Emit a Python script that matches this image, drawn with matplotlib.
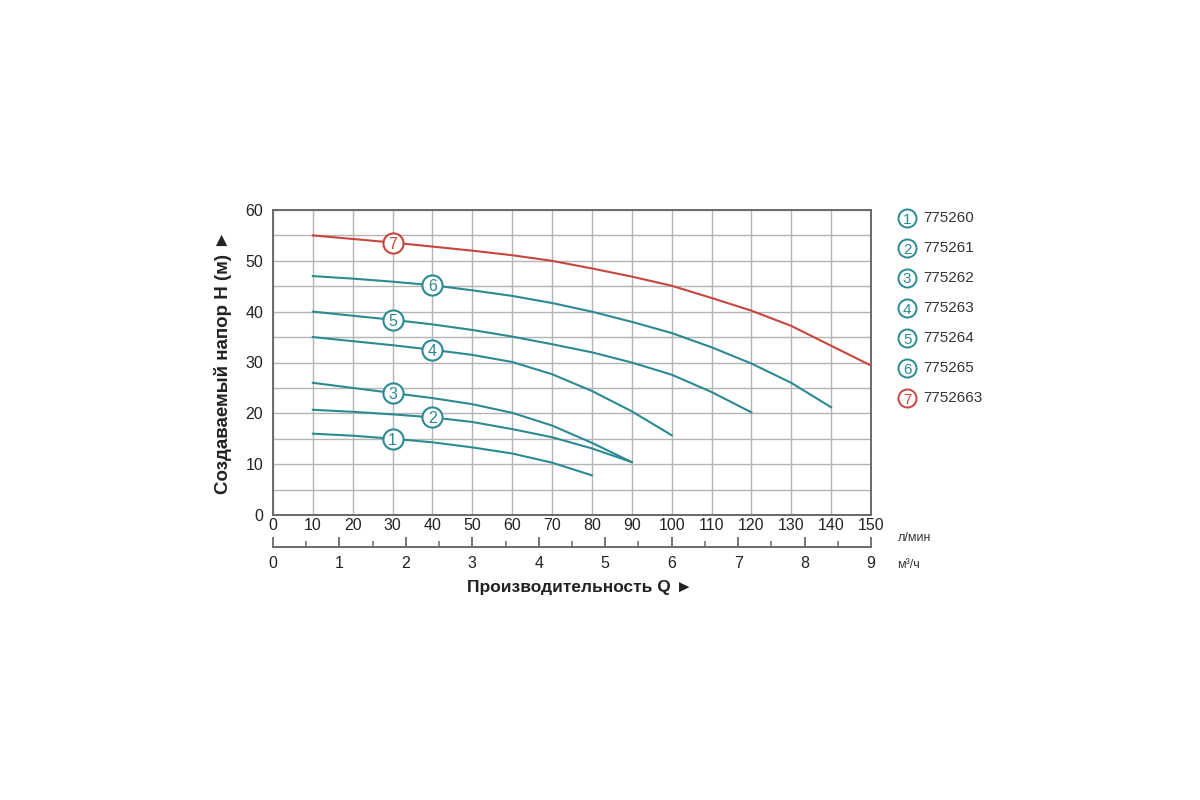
import matplotlib
matplotlib.use("Agg")
import matplotlib.pyplot as plt
import numpy as np

# ============================================================
# DATA
# ============================================================
flow = [10, 20, 30, 40, 50, 60, 70, 80, 90, 100, 110, 120, 130, 140, 150]

head_1 = [16.0, 15.6, 15.0, 14.3, 13.3, 12.1, 10.3, 7.8]
head_2 = [20.7, 20.3, 19.8, 19.2, 18.3, 16.9, 15.3, 13.1, 10.4]
head_3 = [26.0, 25.0, 24.0, 23.0, 21.8, 20.1, 17.6, 14.2, 10.4]
head_4 = [35.0, 34.2, 33.4, 32.5, 31.5, 30.1, 27.7, 24.4, 20.4, 15.7]
head_5 = [40.0, 39.2, 38.4, 37.5, 36.4, 35.1, 33.6, 32.0, 30.0, 27.6, 24.2, 20.2]
head_6 = [47.0, 46.5, 45.9, 45.2, 44.2, 43.1, 41.7, 40.0, 38.0, 35.8, 33.0, 29.8, 26.0, 21.2]
head_7 = [55.0, 54.3, 53.6, 52.8, 52.0, 51.1, 50.0, 48.5, 46.9, 45.1, 42.7, 40.2, 37.2, 33.3, 29.4]

curves = [head_1, head_2, head_3, head_4, head_5, head_6, head_7]
models = ["775260", "775261", "775262", "775263", "775264", "775265", "7752663"]
label_flow = [30, 40, 30, 40, 30, 40, 30]

flow_m3h = list(range(0, 10))

TEAL = "#2b8a92"
RED = "#c8453e"
colors = [TEAL] * 6 + [RED]

FONT = ["Liberation Sans Narrow", "Liberation Sans", "DejaVu Sans"]
plt.rcParams["font.family"] = FONT

# ============================================================
# FIGURE
# ============================================================
fig = plt.figure(figsize=(12, 8), dpi=100)
fig.patch.set_facecolor("white")

ax = fig.add_axes([0.2275, 0.35625, 0.4983, 0.38125])
ax.set_xlim(0, 150)
ax.set_ylim(0, 60)
ax.set_xticks(range(0, 151, 10))
ax.set_yticks(range(0, 61, 10))
ax.set_yticks(range(5, 60, 10), minor=True)
ax.grid(True, which="both", color="#b4b4b4", linewidth=1.0)
ax.set_axisbelow(True)
ax.tick_params(axis="both", which="both", length=0, labelsize=11.5, colors="#222222")
ax.tick_params(axis="x", pad=2)
ax.tick_params(axis="y", pad=7)
for s in ax.spines.values():
    s.set_color("#6a6a6a")
    s.set_linewidth(1.4)

for i, (h, c) in enumerate(zip(curves, colors)):
    x = flow[:len(h)]
    ax.plot(x, h, color=c, linewidth=1.5, zorder=3)
    lx = label_flow[i]
    ly = h[x.index(lx)]
    ax.plot([lx], [ly], marker="o", markersize=14.5, mfc="white", mec=c,
            mew=1.5, zorder=4)
    ax.text(lx, ly, str(i + 1), color=c, fontsize=11.5, ha="center",
            va="center_baseline", zorder=5)

ax.set_ylabel("Создаваемый напор H (м) ►", family="Liberation Sans",
              fontsize=13.5, fontweight="bold", color="#222222", labelpad=10)

fig.text(0.748, 0.327, "л/мин", fontsize=9, color="#333333", va="center")

# ------------------------------------------------------------
# m3/h axis (line with upward ticks)
# ------------------------------------------------------------
ax2 = fig.add_axes([0.2275, 0.316, 0.4983, 0.0001])
ax2.set_xlim(0, 9)
ax2.set_yticks([])
ax2.patch.set_visible(False)
for side in ["top", "left", "right"]:
    ax2.spines[side].set_visible(False)
ax2.spines["bottom"].set_color("#6a6a6a")
ax2.spines["bottom"].set_linewidth(1.4)
ax2.set_xticks(flow_m3h)
ax2.set_xticks(np.arange(0.5, 9, 1.0), minor=True)
ax2.tick_params(axis="x", which="major", direction="in", length=7,
                width=1.3, color="#6a6a6a", labelsize=11.5,
                labelcolor="#222222", pad=6)
ax2.tick_params(axis="x", which="minor", direction="in", length=4,
                width=1.1, color="#6a6a6a")

fig.text(0.748, 0.294, "м³/ч", fontsize=9, color="#333333", va="center")

fig.text(0.4835, 0.266, "Производительность Q ►", family="Liberation Sans",
         fontsize=12.5, fontweight="bold", color="#222222",
         ha="center", va="center")

# ------------------------------------------------------------
# legend
# ------------------------------------------------------------
for i, (m, c) in enumerate(zip(models, colors)):
    y = 1 - (218 + 30 * i) / 800
    fig.lines.append(plt.Line2D([0.756], [y], marker="o", markersize=13,
                                mfc="white", mec=c, mew=1.4,
                                transform=fig.transFigure))
    fig.text(0.756, y, str(i + 1), color=c, fontsize=11, ha="center",
             va="center_baseline")
    fig.text(0.769, y, m, color="#333333", fontsize=11, ha="left",
             va="center")

fig.savefig("out.png", dpi=100, facecolor="white")
